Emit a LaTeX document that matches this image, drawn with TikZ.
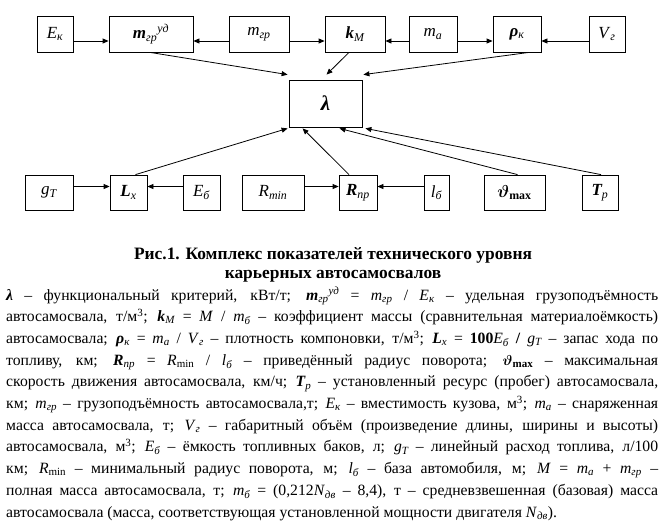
\documentclass[tikz,border=0pt]{standalone}
\usepackage{amsmath}
\usepackage{fontspec}
\setmainfont{Liberation Serif}
\usetikzlibrary{arrows.meta}

% Italic sub- and superscripts, bold italic symbols
\newcommand{\lsub}[1]{\textsubscript{\itshape #1}}
\newcommand{\lsup}[1]{\textsuperscript{\itshape #1}}
\newcommand{\bi}[1]{{\bfseries\itshape #1}}
\newcommand{\vth}{$\boldsymbol{\vartheta}$}

\begin{document}
\begin{tikzpicture}[x=1pt,y=-1pt,
    box/.style={draw,line width=0.8pt,inner sep=0pt,font=\fontsize{17}{17}\selectfont},
    toprow/.style={box,minimum height=36pt},
    botrow/.style={box,minimum height=35pt},
    arr/.style={line width=0.8pt,-{Triangle[length=6pt,width=5pt]}}]
\useasboundingbox (0,0) rectangle (664,528);

% Draw upper row of boxes
\node[toprow,minimum width=36pt] (ek) at (55,34) {\textit{E}\lsub{к}};
\node[toprow,minimum width=84pt] (mud) at (151,34) {\bi{m}\lsub{гр}\lsup{уд}};
\node[toprow,minimum width=60pt] (mgr) at (259,34) {\textit{m}\lsub{гр}};
\node[toprow,minimum width=60pt] (km) at (355,34) {\bi{k}\lsub{M}};
\node[toprow,minimum width=48pt] (ma) at (433,34) {\textit{m}\lsub{a}};
\node[toprow,minimum width=48pt] (rho) at (517,34) {\bi{ρ}\lsub{к}};
\node[toprow,minimum width=36pt] (vg) at (607,34) {\textit{V}\lsub{г}};

% Draw criterion box
\node[box,minimum width=73pt,minimum height=47pt,font=\fontsize{21}{21}\selectfont] (lam) at (325.5,103.5) {\bi{λ}};

% Draw lower row of boxes
\node[botrow,minimum width=48pt] (gt) at (49,192.5) {\textit{g}\lsub{T}};
\node[botrow,minimum width=37pt] (lx) at (128.5,192.5) {\bi{L}\lsub{x}};
\node[botrow,minimum width=37pt] (eb) at (201.5,192.5) {\textit{E}\lsub{б}};
\node[botrow,minimum width=62pt] (rmin) at (273,192.5) {\textit{R}\lsub{min}};
\node[botrow,minimum width=38pt] (rpr) at (358,192.5) {\bi{R}\lsub{пр}};
\node[botrow,minimum width=25pt] (lb) at (436.5,192.5) {\textit{l}\lsub{б}};
\node[botrow,minimum width=61pt] (thm) at (514.5,192.5) {\vth\textsubscript{\bfseries max}};
\node[botrow,minimum width=36pt] (tp) at (600,192.5) {\bi{T}\lsub{р}};

% Draw horizontal arrows
\draw[arr] ([yshift=-7pt]ek.east) -- ([yshift=-7pt]mud.west);
\draw[arr] ([yshift=-7pt]mgr.west) -- ([yshift=-7pt]mud.east);
\draw[arr] ([yshift=-7pt]mgr.east) -- ([yshift=-7pt]km.west);
\draw[arr] ([yshift=-7pt]ma.west) -- ([yshift=-7pt]km.east);
\draw[arr] ([yshift=-7pt]ma.east) -- ([yshift=-7pt]rho.west);
\draw[arr] ([yshift=-7pt]vg.west) -- ([yshift=-7pt]rho.east);
\draw[arr] ([yshift=6pt]gt.east) -- ([yshift=6pt]lx.west);
\draw[arr] ([yshift=6pt]eb.west) -- ([yshift=6pt]lx.east);
\draw[arr] ([yshift=6pt]rmin.east) -- ([yshift=6pt]rpr.west);
\draw[arr] ([yshift=6pt]lb.west) -- ([yshift=6pt]rpr.east);

% Draw arrows into the criterion
\draw[arr] ([xshift=-1pt]mud.south) -- ([shift={(-1pt,5pt)}]lam.north west);
\draw[arr] ([xshift=-6pt]km.south) -- ([shift={(1pt,5pt)}]lam.north);
\draw[arr] ([xshift=12pt]rho.south) -- ([shift={(1pt,5pt)}]lam.north east);
\draw[arr] ([xshift=7pt]lx.north) -- ([shift={(-1pt,-1pt)}]lam.south west);
\draw[arr] ([xshift=-9pt]rpr.north) -- ([shift={(14pt,-1pt)}]lam.south west);
\draw[arr] ([xshift=3pt]thm.north) -- ([shift={(14pt,-1pt)}]lam.south);
\draw[arr] ([xshift=1pt]tp.north) -- ([shift={(3pt,-1pt)}]lam.south east);

% Draw caption
\node[font=\fontsize{17.4}{19.5}\selectfont\bfseries,align=center,inner sep=0pt] (cap) at (333,265)
  {Рис.1. Комплекс показателей технического уровня\\ карьерных автосамосвалов};

% Draw legend
\node[anchor=north west,text width=652pt,align=justify,inner sep=0pt,
      font=\fontsize{15.7}{21.7}\selectfont] (legend) at (6,287)
  {\hyphenpenalty=10000\exhyphenpenalty=10000\tolerance=9999
   \bi{λ} – функциональный критерий, кВт/т; \bi{m}\lsub{гр}\lsup{уд} = \textit{m}\lsub{гр} / \textit{E}\lsub{к} – удельная грузоподъёмность\linebreak
   автосамосвала, т/м\textsuperscript{3}; \bi{k}\lsub{M} = \textit{M} / \textit{m}\lsub{б} – коэффициент массы (сравнительная материалоёмкость)\linebreak
   автосамосвала; \bi{ρ}\lsub{к} = \textit{m}\lsub{a} / \textit{V}\lsub{г} – плотность компоновки, т/м\textsuperscript{3}; \bi{L}\lsub{x} = \textbf{100}\textit{E}\lsub{б} \textbf{/} \textit{g}\lsub{T} – запас хода по\linebreak
   топливу, км; \bi{R}\lsub{пр} = \textit{R}\textsubscript{min} / \textit{l}\lsub{б} – приведённый радиус поворота; \vth\textsubscript{\bfseries max} – максимальная\linebreak
   скорость движения автосамосвала, км/ч; \bi{T}\lsub{р} – установленный ресурс (пробег) автосамосвала,\linebreak
   км; \textit{m}\lsub{гр} – грузоподъёмность автосамосвала,т; \textit{E}\lsub{к} – вместимость кузова, м\textsuperscript{3}; \textit{m}\lsub{a} – снаряженная\linebreak
   масса автосамосвала, т; \textit{V}\lsub{г} – габаритный объём (произведение длины, ширины и высоты)\linebreak
   автосамосвала, м\textsuperscript{3}; \textit{E}\lsub{б} – ёмкость топливных баков, л; \textit{g}\lsub{T} – линейный расход топлива, л/100\linebreak
   км; \textit{R}\textsubscript{min} – минимальный радиус поворота, м; \textit{l}\lsub{б} – база автомобиля, м; \textit{M} = \textit{m}\lsub{a} + \textit{m}\lsub{гр} –\linebreak
   полная масса автосамосвала, т; \textit{m}\lsub{б} = (0,212\textit{N}\lsub{дв} – 8,4), т – средневзвешенная (базовая) масса\linebreak
   автосамосвала (масса, соответствующая установленной мощности двигателя \textit{N}\lsub{дв}).\par};
\end{tikzpicture}
\end{document}
